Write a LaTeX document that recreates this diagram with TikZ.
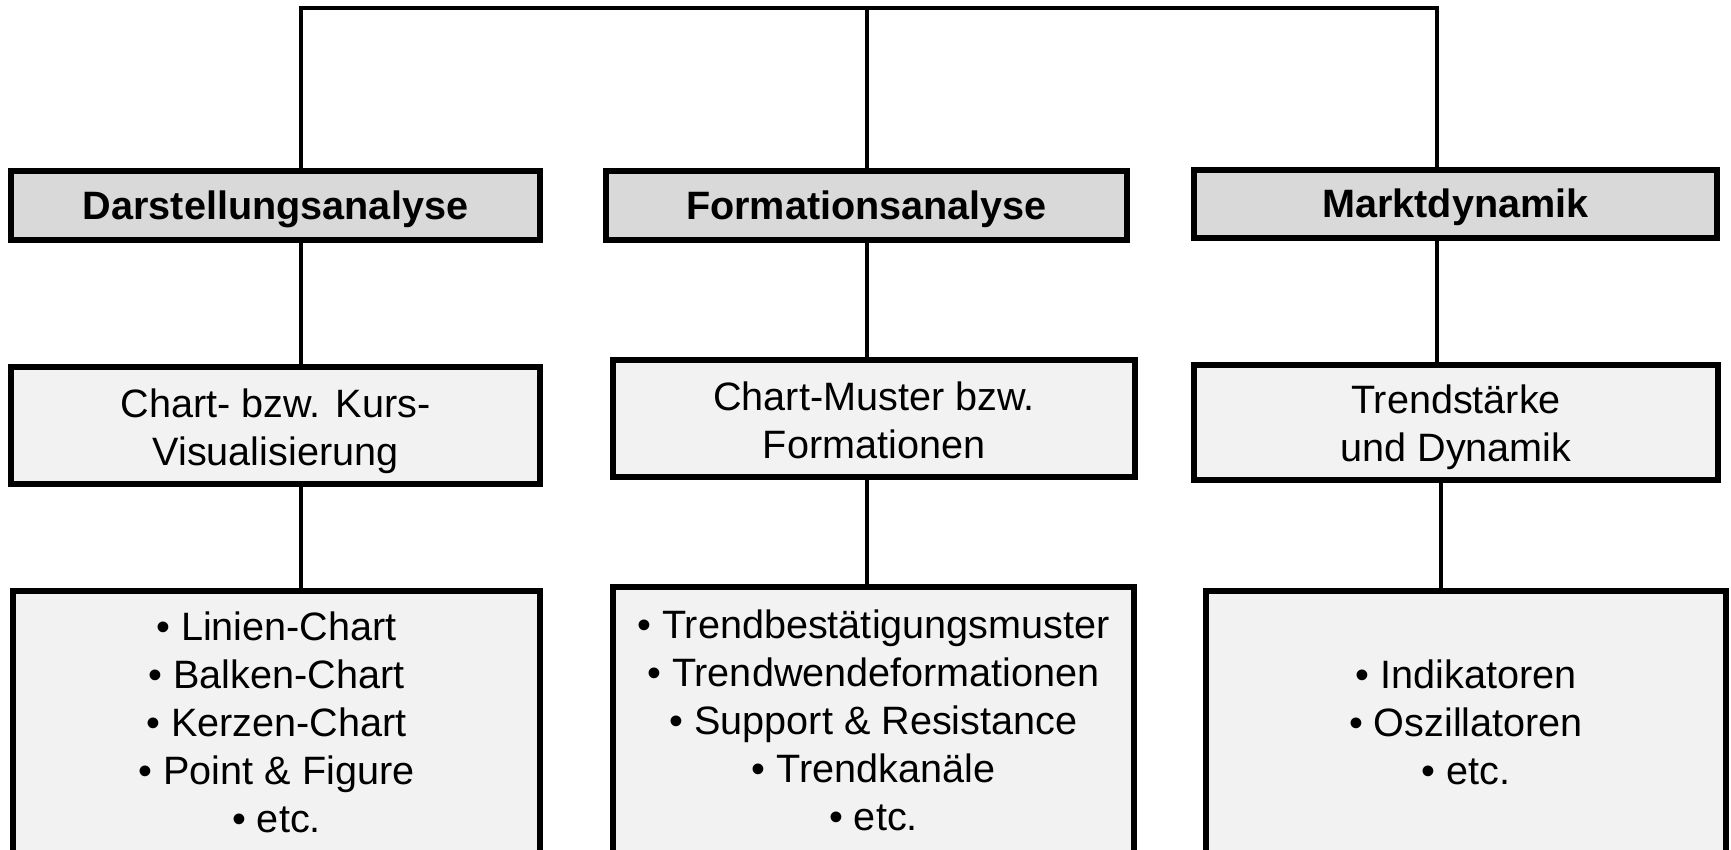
\documentclass[tikz,border=0pt]{standalone}
\usepackage{fontspec}
\setmainfont{Liberation Sans}
\definecolor{hdrfill}{HTML}{D9D9D9}
\definecolor{boxfill}{HTML}{F2F2F2}
\tikzset{
  basebox/.style={draw=black, line width=6pt, inner sep=0pt, align=center,
    font=\fontsize{39.6}{48}\selectfont},
  hdr/.style={basebox, fill=hdrfill},
  midbox/.style={basebox, fill=boxfill},
  botbox/.style={basebox, fill=boxfill},
  txt/.style={inner sep=0pt, align=center, font=\fontsize{39.6}{48}\selectfont},
  hdrtxt/.style={txt, font=\fontsize{39.6}{48}\selectfont\bfseries},
  conn/.style={draw=black, line width=4.5pt}
}
\begin{document}
\begin{tikzpicture}[x=1pt, y=-1pt]
\clip (0,0) rectangle (1731,849);
\fill[white] (0,0) rectangle (1731,849);
% coordinates of the connector lines
\coordinate (T1) at (301,8);
\coordinate (T2) at (867,8);
\coordinate (T3) at (1437,8);
\coordinate (L3) at (1441,8);
% header boxes
\node[hdr, minimum width=529pt, minimum height=69pt] (h1) at (275.5,205.5) {};
\node[hdr, minimum width=521pt, minimum height=69pt] (h2) at (866.5,205.5) {};
\node[hdr, minimum width=523pt, minimum height=68pt] (h3) at (1455.5,204) {};
\node[hdrtxt] (h1t) at ([yshift=-3.5pt]h1.center) {Darstellungsanalyse};
\node[hdrtxt] (h2t) at ([yshift=-3.5pt]h2.center) {Formationsanalyse};
\node[hdrtxt] (h3t) at ([yshift=-3.5pt]h3.center) {Marktdynamik};
% middle boxes
\node[midbox, minimum width=529pt, minimum height=117pt] (m1) at (275.5,425.5) {};
\node[midbox, minimum width=522pt, minimum height=117pt] (m2) at (874,418.5) {};
\node[midbox, minimum width=524pt, minimum height=115pt] (m3) at (1456,422.5) {};
\node[txt] (m1t) at ([yshift=-6pt]m1.center) {Chart- bzw. Kurs-\\Visualisierung};
\node[txt] (m2t) at ([yshift=-2pt]m2.center) {Chart-Muster bzw.\\Formationen};
\node[txt] (m3t) at ([yshift=-4.5pt]m3.center) {Trendstärke\\und Dynamik};
% bottom boxes (cut by the page edge)
\node[botbox, minimum width=527pt, minimum height=262pt] (b1) at (276.5,722) {• Linien-Chart\\• Balken-Chart\\• Kerzen-Chart\\• Point \& Figure\\• etc.};
\node[botbox, minimum width=521pt, minimum height=266pt] (b2) at (873.5,720) {• Trendbestätigungsmuster\\• Trendwendeformationen\\• Support \& Resistance\\• Trendkanäle\\• etc.};
\node[botbox, minimum width=520pt, minimum height=262pt] (b3) at (1466,722) {• Indikatoren\\• Oszillatoren\\• etc.};
% connectors
\draw[conn, line join=miter] (T1 |- h1.north) -- (T1) -- (T3) -- (T3 |- h3.north);
\draw[conn] (T2) -- (T2 |- h2.north);
\draw[conn] (h1.south -| T1) -- (m1.north -| T1);
\draw[conn] (h2.south -| T2) -- (m2.north -| T2);
\draw[conn] (h3.south -| T3) -- (m3.north -| T3);
\draw[conn] (m1.south -| T1) -- (b1.north -| T1);
\draw[conn] (m2.south -| T2) -- (b2.north -| T2);
\draw[conn] (m3.south -| L3) -- (b3.north -| L3);
\end{tikzpicture}
\end{document}
